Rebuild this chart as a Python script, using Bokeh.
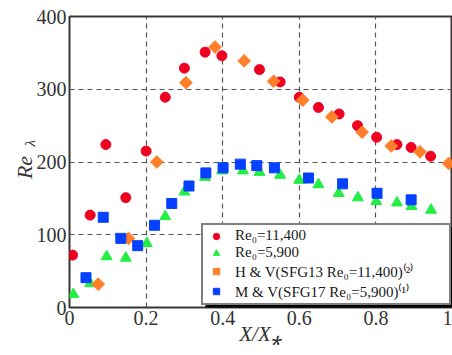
import math
from bokeh.plotting import figure
from bokeh.models import Legend, LegendItem, BoxAnnotation, FixedTicker, Range1d, LinearAxis
from bokeh.embed import file_html
from bokeh.resources import INLINE

# Re0 = 11,400 (red circles)
red_x = [0.008, 0.054, 0.095, 0.147, 0.200, 0.250, 0.300, 0.354, 0.398, 0.496, 0.550, 0.600, 0.650, 0.704, 0.752, 0.802, 0.855, 0.892, 0.943]
red_y = [72, 127, 224, 151, 215, 289, 329, 351, 346, 327, 310, 289, 275, 266, 250, 234, 224, 220, 208]

# Re0 = 5,900 (green triangles)
green_x = [0.010, 0.054, 0.097, 0.147, 0.202, 0.250, 0.300, 0.354, 0.398, 0.453, 0.496, 0.550, 0.600, 0.650, 0.703, 0.753, 0.801, 0.855, 0.893, 0.944]
green_y = [18, 33, 70, 68, 88, 125, 159, 179, 188, 188, 186, 182, 175, 169, 157, 151, 146, 144, 139, 134]

# H & V (SFG13 Re0 = 11,400) (orange diamonds)
orange_x = [0.075, 0.154, 0.228, 0.304, 0.380, 0.456, 0.533, 0.609, 0.685, 0.764, 0.840, 0.915, 0.990]
orange_y = [32, 95, 200, 309, 358, 339, 311, 285, 262, 241, 222, 214, 198]

# M & V (SFG17 Re0 = 5,900) (blue squares)
blue_x = [0.043, 0.088, 0.134, 0.178, 0.222, 0.267, 0.312, 0.356, 0.401, 0.446, 0.489, 0.535, 0.624, 0.713, 0.803, 0.892]
blue_y = [41, 124, 95, 85, 113, 143, 167, 185, 192, 197, 195, 192, 178, 170, 157, 148]

x_ticks = [0, 0.2, 0.4, 0.6, 0.8, 1.0]
x_tick_labels = ["0", "0.2", "0.4", "0.6", "0.8", "1"]
y_ticks = [0, 100, 200, 300, 400]
y_tick_labels = ["0", "100", "200", "300", "400"]

labels = ["Re\u2080=11,400", "Re\u2080=5,900",
          "H & V(SFG13 Re\u2080=11,400)\u207d\u00b2\u207e",
          "M & V(SFG17 Re\u2080=5,900)\u207d\u00b9\u207e"]

FONT = "Liberation Serif"
TXT = "#333333"
NB = "\u00a0"

p = figure(width=452, height=355, output_backend="svg", toolbar_location=None,
           x_range=Range1d(0, 1), y_range=Range1d(0, 400),
           min_border_left=69, min_border_right=0, min_border_top=16, min_border_bottom=48)

p.outline_line_color = "#3a3535"
p.outline_line_width = 2
p.background_fill_color = "white"

p.axis.axis_line_color = None
p.axis.major_tick_line_color = None
p.axis.minor_tick_line_color = None
p.axis.major_tick_out = 0
p.axis.minor_tick_out = 0
p.axis.major_label_text_font = FONT
p.axis.major_label_text_font_size = "20px"
p.axis.major_label_text_color = TXT

p.xaxis.ticker = FixedTicker(ticks=x_ticks)
p.xaxis.major_label_overrides = {t: l for t, l in zip(x_ticks, x_tick_labels)}
p.yaxis.ticker = FixedTicker(ticks=y_ticks)
p.yaxis.major_label_overrides = {t: l for t, l in zip(y_ticks, y_tick_labels)}
p.xaxis.major_label_standoff = 3
p.yaxis.major_label_standoff = 3

# x-axis title
p.xaxis.axis_label = "X/X\u204e"
p.xaxis.axis_label_text_font = FONT
p.xaxis.axis_label_text_font_style = "italic"
p.xaxis.axis_label_text_font_size = "21px"
p.xaxis.axis_label_text_color = TXT
p.xaxis.axis_label_standoff = -6

# y-axis title: subscript lambda next to the tick labels, "Re" further out
p.yaxis.axis_label = NB * 10 + "\u03bb"
p.yaxis.axis_label_text_font = FONT
p.yaxis.axis_label_text_font_style = "italic"
p.yaxis.axis_label_text_font_size = "15px"
p.yaxis.axis_label_text_color = TXT
p.yaxis.axis_label_standoff = -4

re_axis = LinearAxis(ticker=FixedTicker(ticks=[]), axis_label="Re" + NB * 2,
                     axis_line_color=None, major_tick_line_color=None,
                     minor_tick_line_color=None, major_tick_out=0, minor_tick_out=0,
                     axis_label_standoff=-18,
                     axis_label_text_font=FONT, axis_label_text_font_style="italic",
                     axis_label_text_font_size="22px", axis_label_text_color=TXT)
p.add_layout(re_axis, "left")

p.grid.grid_line_color = "#555555"
p.grid.grid_line_dash = "5 4"
p.grid.grid_line_width = 1.2

r1 = p.scatter(red_x, red_y, marker="circle", size=10, color="#f00020")
r2 = p.scatter(green_x, green_y, marker="triangle", size=11, color="#22ee44")
r3 = p.scatter(orange_x, orange_y, marker="square", angle=math.pi / 4, size=9, color="#ff7f2a")
r4 = p.scatter(blue_x, blue_y, marker="square", size=10, color="#0540ff")

shadow = BoxAnnotation(left=0.355, right=1.05, bottom=-5, top=110,
                       fill_color="black", fill_alpha=1, line_color=None)
p.add_layout(shadow)

legend = Legend(items=[LegendItem(label=labels[0], renderers=[r1]),
                       LegendItem(label=labels[1], renderers=[r2]),
                       LegendItem(label=labels[2], renderers=[r3]),
                       LegendItem(label=labels[3], renderers=[r4])],
                location=(132, 2))
legend.label_text_font = FONT
legend.label_text_font_size = "15px"
legend.label_text_line_height = 1.0
legend.label_text_color = "#1a1a1a"
legend.border_line_color = "black"
legend.border_line_width = 2
legend.background_fill_color = "white"
legend.background_fill_alpha = 1
legend.padding = 2
legend.spacing = 0
legend.margin = 0
legend.glyph_width = 22
legend.glyph_height = 16
legend.label_height = 16
legend.label_width = 212
legend.label_standoff = 8
p.add_layout(legend)

open("out.html", "w").write(file_html(p, INLINE))
